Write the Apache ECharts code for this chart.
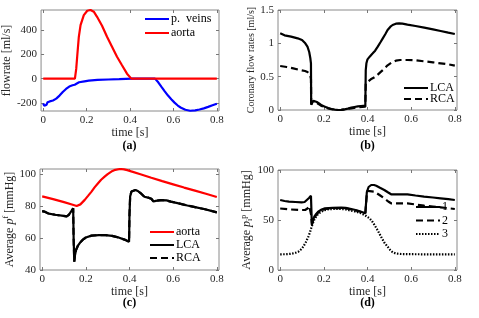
<!DOCTYPE html>
<html><head><meta charset="utf-8">
<script src="https://cdn.jsdelivr.net/npm/echarts@6/dist/echarts.min.js"></script>
<style>html,body{margin:0;padding:0;background:#fff}#c{width:479px;height:318px}</style>
</head><body><div id="c"></div>
<script>
// ---- Panel (a): flow rates ----
const veinsT = [0, 0.005, 0.01, 0.015, 0.02, 0.03, 0.045, 0.06, 0.075, 0.09, 0.105, 0.12, 0.135, 0.145, 0.15, 0.165, 0.19, 0.21, 0.25, 0.3, 0.35, 0.41, 0.515, 0.53, 0.545, 0.56, 0.575, 0.59, 0.605, 0.62, 0.635, 0.655, 0.677, 0.7, 0.72, 0.74, 0.76, 0.78, 0.8];
const veinsV = [-205, -225, -235, -215, -195, -188, -180, -165, -140, -110, -85, -65, -55, -50, -42, -30, -22, -17, -11, -7, -4, 0, 0, -30, -68, -105, -140, -170, -198, -222, -240, -257, -265, -262, -255, -245, -233, -220, -207];
const aortaFlowT = [0, 0.146, 0.152, 0.157, 0.164, 0.172, 0.187, 0.203, 0.218, 0.233, 0.248, 0.271, 0.294, 0.317, 0.34, 0.363, 0.386, 0.406, 0.8];
const aortaFlowV = [0, 0, 80, 193, 345, 441, 524, 560, 566, 552, 510, 436, 345, 262, 180, 110, 41, 0, 0];

// ---- Panel (b): coronary flow rates ----
const lcaFlowT = [0, 0.02, 0.05, 0.08, 0.1, 0.115, 0.125, 0.133, 0.138, 0.141, 0.142, 0.145, 0.152, 0.16, 0.168, 0.178, 0.19, 0.205, 0.22, 0.235, 0.25, 0.265, 0.28, 0.295, 0.31, 0.326, 0.34, 0.356, 0.37, 0.39, 0.392, 0.395, 0.4, 0.41, 0.424, 0.435, 0.447, 0.46, 0.47, 0.482, 0.492, 0.505, 0.515, 0.53, 0.545, 0.56, 0.583, 0.62, 0.66, 0.7, 0.735, 0.77, 0.8];
const lcaFlowV = [1.15, 1.12, 1.1, 1.075, 1.05, 1.0, 0.95, 0.87, 0.78, 0.7, 0.08, 0.1, 0.14, 0.15, 0.12, 0.1, 0.07, 0.05, 0.03, 0.015, 0.005, 0, 0.002, 0.01, 0.02, 0.035, 0.045, 0.055, 0.06, 0.065, 0.6, 0.7, 0.76, 0.8, 0.85, 0.89, 0.95, 1.02, 1.075, 1.14, 1.2, 1.25, 1.275, 1.295, 1.3, 1.295, 1.28, 1.26, 1.235, 1.21, 1.185, 1.16, 1.14];
const rcaFlowT = [0, 0.03, 0.06, 0.09, 0.114, 0.125, 0.133, 0.138, 0.141, 0.142, 0.145, 0.152, 0.16, 0.17, 0.18, 0.19, 0.205, 0.22, 0.235, 0.25, 0.265, 0.28, 0.3, 0.326, 0.356, 0.39, 0.392, 0.4, 0.415, 0.432, 0.447, 0.462, 0.477, 0.492, 0.51, 0.53, 0.55, 0.583, 0.62, 0.659, 0.7, 0.735, 0.77, 0.8];
const rcaFlowV = [0.66, 0.645, 0.625, 0.6, 0.585, 0.57, 0.54, 0.51, 0.47, 0.1, 0.08, 0.1, 0.12, 0.1, 0.08, 0.06, 0.04, 0.025, 0.012, 0.004, 0, 0.002, 0.012, 0.025, 0.04, 0.05, 0.4, 0.43, 0.46, 0.49, 0.53, 0.575, 0.62, 0.67, 0.71, 0.74, 0.75, 0.75, 0.745, 0.73, 0.715, 0.7, 0.685, 0.665];

// ---- Panel (c): average p^f ----
const aortaPT = [0, 0.05, 0.1, 0.14, 0.158, 0.175, 0.195, 0.21, 0.226, 0.24, 0.256, 0.27, 0.286, 0.3, 0.317, 0.335, 0.357, 0.375, 0.39, 0.408, 0.45, 0.5, 0.55, 0.6, 0.65, 0.7, 0.75, 0.8];
const aortaPV = [86, 84.3, 82.4, 80.8, 80.0, 81.0, 83.8, 86.3, 89.0, 91.6, 94.2, 96.4, 98.3, 99.9, 101.5, 102.6, 103.1, 102.9, 102.4, 101.6, 99.8, 97.6, 95.5, 93.5, 91.5, 89.6, 87.6, 85.6];
const lcaPT = [0, 0.01, 0.03, 0.06, 0.09, 0.112, 0.122, 0.132, 0.142, 0.144, 0.147, 0.15, 0.155, 0.163, 0.173, 0.185, 0.2, 0.226, 0.26, 0.29, 0.32, 0.35, 0.377, 0.398, 0.4, 0.403, 0.409, 0.417, 0.428, 0.44, 0.455, 0.468, 0.485, 0.5, 0.51, 0.52, 0.544, 0.57, 0.589, 0.62, 0.665, 0.7, 0.741, 0.77, 0.8];
const lcaPV = [76.8, 76.5, 75.2, 74.5, 74.0, 73.5, 74.5, 76.5, 78.5, 60, 45.2, 49, 52.5, 55, 57, 58.8, 60.3, 61.5, 61.8, 61.8, 61.3, 60.3, 59.0, 57.7, 75, 86, 89, 90, 90, 89.2, 87.5, 85.8, 85.2, 84.5, 82.8, 83.2, 83.7, 83.5, 82.7, 81.8, 80.3, 79.3, 78.1, 77.1, 76.0];
const rcaPT = [0, 0.01, 0.03, 0.06, 0.09, 0.112, 0.122, 0.132, 0.142, 0.144, 0.147, 0.15, 0.155, 0.163, 0.173, 0.185, 0.2, 0.226, 0.26, 0.29, 0.32, 0.35, 0.377, 0.398, 0.4, 0.403, 0.409, 0.417, 0.428, 0.44, 0.455, 0.468, 0.485, 0.5, 0.51, 0.52, 0.544, 0.57, 0.589, 0.62, 0.665, 0.7, 0.741, 0.77, 0.8];
const rcaPV = [76.8, 76.5, 75.2, 74.5, 74.0, 73.5, 74.5, 76.5, 78.5, 60, 45.2, 49, 52.5, 55, 57, 58.8, 60.3, 61.5, 61.8, 61.8, 61.3, 60.3, 59.0, 57.7, 75, 86, 89, 90, 90, 89.2, 87.5, 85.8, 85.2, 84.5, 82.8, 83.2, 83.7, 83.5, 82.7, 81.8, 80.3, 79.3, 78.1, 77.1, 76.0];

// ---- Panel (d): average p_i^p ----
const p1T = [0, 0.02, 0.04, 0.07, 0.098, 0.112, 0.121, 0.132, 0.141, 0.143, 0.145, 0.15, 0.156, 0.165, 0.174, 0.19, 0.205, 0.24, 0.28, 0.3, 0.326, 0.35, 0.371, 0.39, 0.395, 0.397, 0.405, 0.417, 0.43, 0.44, 0.455, 0.477, 0.495, 0.508, 0.54, 0.583, 0.62, 0.659, 0.7, 0.735, 0.77, 0.8];
const p1V = [70, 69, 68.3, 68, 67.7, 68, 70, 72, 74.3, 60, 45, 49, 53.3, 56, 58.3, 60.5, 61.7, 62.2, 62.3, 62.2, 61, 59.8, 58.3, 56.7, 56.5, 78, 83, 85, 85, 84.3, 82.5, 80, 77.5, 75.7, 75.7, 75.7, 74.5, 73.3, 72.5, 71.7, 70.8, 70];
const p2T = [0, 0.05, 0.09, 0.114, 0.125, 0.133, 0.138, 0.142, 0.145, 0.15, 0.156, 0.165, 0.174, 0.19, 0.205, 0.24, 0.28, 0.3, 0.326, 0.35, 0.371, 0.39, 0.395, 0.398, 0.41, 0.432, 0.455, 0.477, 0.495, 0.508, 0.583, 0.62, 0.659, 0.7, 0.735, 0.77, 0.8];
const p2V = [61.5, 60.5, 60, 60, 61.5, 64, 66, 55, 46.7, 49.5, 52, 55, 57.5, 59.7, 61, 61.7, 62, 61.8, 60.5, 59.3, 58, 56.5, 56, 79, 78.8, 78.3, 75, 71.7, 68.5, 66.7, 66.7, 65.5, 64.3, 63.5, 62.7, 61.8, 61];
const p3T = [0, 0.03, 0.053, 0.07, 0.083, 0.095, 0.106, 0.118, 0.129, 0.137, 0.144, 0.152, 0.159, 0.17, 0.18, 0.189, 0.2, 0.22, 0.25, 0.28, 0.3, 0.326, 0.35, 0.371, 0.39, 0.409, 0.42, 0.432, 0.447, 0.462, 0.477, 0.492, 0.505, 0.515, 0.53, 0.553, 0.6, 0.659, 0.7, 0.8];
const p3V = [15.7, 15.8, 16.3, 17.2, 18.3, 20.5, 23.3, 28, 33.3, 38, 43.3, 48, 51.7, 55, 57, 58.3, 59.6, 60.7, 61.2, 61, 60.5, 59.3, 58.2, 56.7, 54.5, 51.7, 49, 45, 39.5, 33.3, 27.5, 23.3, 19.8, 17.7, 16.5, 16, 15.8, 15.7, 15.7, 15.7];

// ---- tick labels ----
const xTicks = [0, 0.2, 0.4, 0.6, 0.8];
const yTicksA = [-200, 0, 200, 400];
const yTicksB = [0, 0.5, 1, 1.5];
const yTicksC = [40, 60, 80, 100];
const yTicksD = [0, 50, 100];
const panelLabels = ['(a)', '(b)', '(c)', '(d)'];

const FONT = 'Liberation Serif';
const zip = (t, v) => t.map((x, i) => [x, v[i]]);

const grids = [
  {left: 40, top: 10, width: 179, height: 101},
  {left: 278, top: 10, width: 179, height: 100},
  {left: 40, top: 169, width: 179, height: 101},
  {left: 278, top: 170, width: 179, height: 100}
].map(g => Object.assign({show: true, borderColor: '#8a8a8a', borderWidth: 1, backgroundColor: '#fff'}, g));

const xAxes = [], yAxes = [];
const yCfg = [
  {min: -267, max: 566, ticks: yTicksA, name: 'flowrate [ml/s]', gap: 25, size: 12},
  {min: 0, max: 1.5, ticks: yTicksB, name: 'Coronary flow rates [ml/s]', gap: 21, size: 10},
  {min: 40, max: 103.1, ticks: yTicksC, name: 'Average {it|p}{sup|f} [mmHg]', gap: 20, size: 12},
  {min: 0, max: 100, ticks: yTicksD, name: 'Average {it|p}{sub|i}{sup|p} [mmHg]', gap: 21, size: 12}
];
for (let g = 0; g < 4; g++) {
  for (const pos of ['bottom', 'top']) {
    const main = pos === 'bottom';
    xAxes.push({
      type: 'value', gridIndex: g, position: pos, min: -0.01, max: 0.81,
      axisLine: {show: false, onZero: false}, splitLine: {show: false},
      axisTick: {show: true, inside: true, length: 3, customValues: xTicks, lineStyle: {color: '#777'}},
      axisLabel: {show: main, customValues: xTicks, fontFamily: FONT, fontSize: 11, color: '#262626', margin: 4},
      name: main ? 'time [s]' : '', nameLocation: 'middle', nameGap: 16,
      nameTextStyle: {fontFamily: FONT, fontSize: 12, color: '#262626'}
    });
  }
  const c = yCfg[g];
  for (const pos of ['left', 'right']) {
    const main = pos === 'left';
    yAxes.push({
      type: 'value', gridIndex: g, position: pos, min: c.min, max: c.max,
      axisLine: {show: false, onZero: false}, splitLine: {show: false},
      axisTick: {show: true, inside: true, length: 3, customValues: c.ticks, lineStyle: {color: '#777'}},
      axisLabel: {show: main, customValues: c.ticks, fontFamily: FONT, fontSize: 11, color: '#262626', margin: 4},
      name: main ? c.name : '', nameLocation: 'middle', nameGap: c.gap,
      nameTextStyle: {fontFamily: FONT, fontSize: c.size, color: '#262626',
        rich: {
          it: {fontFamily: FONT, fontSize: c.size, fontStyle: 'italic', color: '#262626'},
          sup: {fontFamily: FONT, fontSize: 8, color: '#262626', verticalAlign: 'bottom', padding: [0, 0, 7, 0]},
          sub: {fontFamily: FONT, fontSize: 8, color: '#262626', verticalAlign: 'top', padding: [6, 0, 0, 0]}
        }}
    });
  }
}

function line(name, g, t, v, color, type) {
  return {
    name, type: 'line', xAxisIndex: g * 2, yAxisIndex: g * 2, data: zip(t, v),
    showSymbol: false, symbol: 'none', animation: false, silent: true,
    lineStyle: {color, width: 2.2, type: type || 'solid'}, itemStyle: {color}
  };
}

const series = [
  line('p.  veins', 0, veinsT, veinsV, '#0000ff'),
  line('aorta', 0, aortaFlowT, aortaFlowV, '#ff0000'),
  line('LCA', 1, lcaFlowT, lcaFlowV, '#000'),
  line('RCA', 1, rcaFlowT, rcaFlowV, '#000', [7, 4]),
  line('aorta', 2, aortaPT, aortaPV, '#ff0000'),
  line('RCA', 2, rcaPT, rcaPV, '#000', [7, 4]),
  line('LCA', 2, lcaPT, lcaPV, '#000'),
  line('1', 3, p1T, p1V, '#000'),
  line('2', 3, p2T, p2V, '#000', [7, 4]),
  line('3', 3, p3T, p3V, '#000', [1.5, 1.5])
];

const legBase = {orient: 'vertical', itemWidth: 24, itemHeight: 12, itemGap: 1, selectedMode: false,
  itemStyle: {color: 'rgba(0,0,0,0)', borderWidth: 0, borderColor: 'rgba(0,0,0,0)', opacity: 0},
  textStyle: {fontFamily: FONT, fontSize: 12, color: '#000', padding: [0, 0, 0, -3]}, padding: 0};
const legend = [
  Object.assign({}, legBase, {data: ['p.  veins', 'aorta'], left: 144, top: 13, itemGap: 2}),
  Object.assign({}, legBase, {data: ['LCA', 'RCA'], left: 403, top: 82, itemGap: -1}),
  Object.assign({}, legBase, {data: ['aorta', 'LCA', 'RCA'], left: 149, top: 226, itemGap: 1}),
  Object.assign({}, legBase, {data: ['1', '2', '3'], left: 415, top: 201, itemGap: 1.5})
];

const centers = [[129.5, 146], [367.5, 146], [129.5, 303], [367.5, 303]];
const graphic = panelLabels.map((s, i) => ({
  type: 'text', x: centers[i][0], y: centers[i][1], silent: true,
  style: {text: s, fill: '#000', font: 'bold 12px "' + FONT + '"', textAlign: 'center', textVerticalAlign: 'middle'}
}));

const chart = echarts.init(document.getElementById('c'), null, {renderer: 'canvas'});
chart.setOption({animation: false, grid: grids, xAxis: xAxes, yAxis: yAxes, series, legend, graphic});
</script></body></html>
